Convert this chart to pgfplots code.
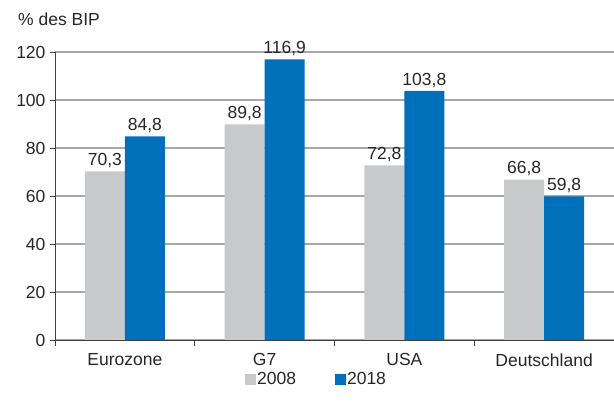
\documentclass[border=0pt]{standalone}
\usepackage{pgfplots}
\pgfplotsset{compat=1.18}
\usepackage{fontspec}
\setmainfont{Liberation Sans}
\definecolor{bargray}{RGB}{200,201,203}
\definecolor{barblue}{RGB}{0,112,186}
\definecolor{gridgray}{RGB}{165,168,168}
\newcommand{\fs}{\fontsize{17.5}{20}\selectfont}
\begin{document}
\begin{tikzpicture}[x=1pt,y=1pt]
\useasboundingbox (0,0) rectangle (614,409);
\node[anchor=base west, font=\fs, inner sep=0pt, text=black!85] at (18,383) {\% des BIP};
\begin{axis}[
  at={(55pt,69pt)}, anchor=south west,
  width=559pt, height=288pt, scale only axis,
  xmin=-0.5, xmax=3.5, ymin=0, ymax=120,
  axis lines=left, axis line style={-, black!75, line width=0.9pt},
  ytick={0,20,...,120},
  xtick={0,1,2,3},
  xticklabels={Eurozone,G7,USA,Deutschland},
  minor xtick={-0.5,0.5,1.5,2.5},
  tick align=outside,
  major tick length=5pt, minor tick length=6pt,
  major x tick style={draw=none},
  minor x tick style={black!75, line width=0.9pt},
  y tick style={black!75, line width=0.9pt},
  ymajorgrids, grid style={gridgray, line width=1.1pt},
  tick label style={font=\fs, text=black!85},
  /pgf/number format/assume math mode=true,
  yticklabel style={xshift=-1pt},
  xticklabel style={yshift=-5pt},
  ybar, bar width=40pt,
  nodes near coords,
  nodes near coords style={font=\fs, text=black!85,
    /pgf/number format/.cd, fixed, precision=1, fixed zerofill, use comma, assume math mode=true},
  legend style={at={(0.467,-0.135)}, anchor=center, draw=none, fill=none,
    legend columns=2, font=\fs, text=black!85,
    /tikz/every even column/.append style={column sep=37pt},
    nodes={inner sep=1.5pt}},
  clip=false,
]
\addplot[fill=bargray, draw=none, bar shift=-20pt,
  legend image code/.code={\fill[bargray] (0pt,-6pt) rectangle (11pt,5pt);}]
  coordinates {(0,70.3) (1,89.8) (2,72.8) (3,66.8)};
\addplot[fill=barblue, draw=none, bar shift=20pt,
  legend image code/.code={\fill[barblue] (0pt,-6pt) rectangle (11pt,5pt);}]
  coordinates {(0,84.8) (1,116.9) (2,103.8) (3,59.8)};
\legend{2008,2018}
\end{axis}
\end{tikzpicture}
\end{document}
